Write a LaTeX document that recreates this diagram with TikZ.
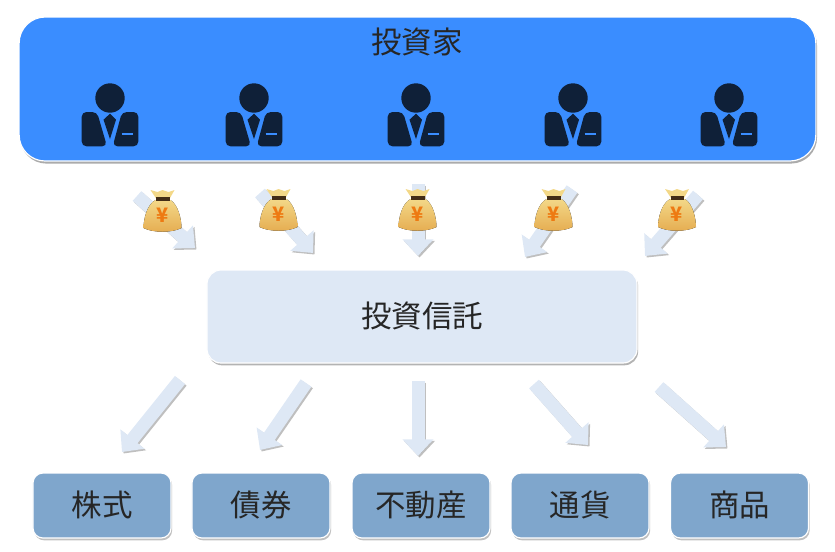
\documentclass[tikz,border=0pt]{standalone}
\usepackage{fontspec}
\setmainfont{Noto Sans CJK JP}
\usetikzlibrary{arrows.meta, positioning, shadows}
\definecolor{investorblue}{HTML}{3A8DFF}
\definecolor{fundblue}{HTML}{DEE8F5}
\definecolor{assetblue}{HTML}{7FA6CC}
\definecolor{suitdark}{HTML}{0F2038}
\definecolor{bagtop}{HTML}{F3D888}
\definecolor{bagbottom}{HTML}{E5AC50}
\definecolor{yenorange}{HTML}{EE7A12}
\tikzset{
  investors/.style = {draw=white, line width=1pt, fill=investorblue, rounded corners=0.78cm,
                      minimum width=23.9cm, minimum height=4.32cm,
                      drop shadow={shadow xshift=1pt, shadow yshift=-2.2pt, fill=black!55, opacity=0.6}},
  fund/.style      = {draw=white, line width=1pt, fill=fundblue, rounded corners=0.42cm,
                      minimum width=12.9cm, minimum height=2.79cm,
                      drop shadow={shadow xshift=1pt, shadow yshift=-2pt, fill=black!50, opacity=0.6}},
  asset/.style     = {draw=white, line width=1pt, fill=assetblue, rounded corners=0.3cm,
                      minimum width=4.14cm, minimum height=1.95cm,
                      drop shadow={shadow xshift=1pt, shadow yshift=-2pt, fill=black!45, opacity=0.55}},
  title/.style     = {inner sep=0pt},
  every node/.append style = {font=\fontsize{26}{30}\selectfont, text=black!85},
  flow/.style      = {line width=0.39cm, color=fundblue, -{Triangle[width=0.9cm, length=0.5cm]}},
  flowshadow/.style = {flow, color=black!50, opacity=0.5, transform canvas={shift={(1.3pt,-1.3pt)}}},
  person/.pic = {
    \fill[suitdark] (0,0) circle (14.7);
    \fill[suitdark, rounded corners=4pt] (-13,14) -- (-3,48.3) -- (-28.3,48.3) -- (-28.3,14) -- cycle;
    \fill[suitdark, rounded corners=4pt] (12,14) -- (2.7,48.3) -- (28.3,48.3) -- (28.3,14) -- cycle;
    \fill[suitdark] (0,15.7) -- (6,21.7) -- (0,41) -- (-6.5,21.7) -- cycle;
    \draw[investorblue, line width=1.5pt] (11.7,36.3) -- (23.3,36.3);
  },
  moneybag/.pic = {
    \fill[bagtop]
      (-12,-21) -- (-5,-19) -- (0,-21) -- (6,-19) -- (12,-21) -- (7,-12) -- (-6,-12) -- cycle;
    \fill[top color=bagtop, bottom color=bagbottom]
      (-7,-11) .. controls (-16,-6) and (-19,9) .. (-19,17)
      .. controls (-9,22) and (9,22) .. (19,17)
      .. controls (19,9) and (16,-6) .. (8,-11) -- cycle;
    \fill[black!65!brown] (-6.5,-14) rectangle (7,-10.5);
    \node[inner sep=0pt, text=yenorange, font=\bfseries\fontsize{17}{17}\selectfont] (-yen) at (0,4) {¥};
  },
}

\begin{document}
\begin{tikzpicture}[x=0.03cm, y=-0.03cm]
  \useasboundingbox (0,0) rectangle (835,551);
  \node[investors] (investors) at (417.5,89) {};
  \node[title]     (caption)   at (417,42) {投資家};

  \foreach \n/\xpos in {1/110, 2/254, 3/416, 4/573, 5/729}
    \pic (person\n) at (\xpos,98) {person};

  \node[fund] (trust) at (422,316.5) {\raisebox{3pt}{投資信託}};

  \node[asset] (stock)  at (102,505.5) {\raisebox{3pt}{株式}};
  \node[asset] (bond)   at (261,505.5) {\raisebox{3pt}{債券}};
  \node[asset] (estate) at (421,505.5) {\raisebox{3pt}{不動産}};
  \node[asset] (forex)  at (580,505.5) {\raisebox{3pt}{通貨}};
  \node[asset] (goods)  at (739.5,505.5) {\raisebox{3pt}{商品}};

  % arrows above and below the fund
  \foreach \n/\xa/\ya/\xb/\yb in {a/137/196/195/248, b/260/193/313/253, c/418/184/418/256,
      d/572/189/525/257, e/698/195/645/256, f/180/380/122/452, g/306/383/260/450,
      h/418/381/418/456, i/534/384/588/445, j/659/387/726/447} {
    \coordinate (s\n) at (\xa,\ya);
    \coordinate (t\n) at (\xb,\yb);
    \draw[flowshadow] (s\n) -- (t\n);
    \draw[flow] (s\n) -- (t\n);
  }

  \foreach \n/\xpos/\ypos in {1/162.5/211, 2/278.5/210, 3/417.5/210, 4/553.5/210, 5/677/210}
    \pic (bag\n) at (\xpos,\ypos) {moneybag};
\end{tikzpicture}
\end{document}
